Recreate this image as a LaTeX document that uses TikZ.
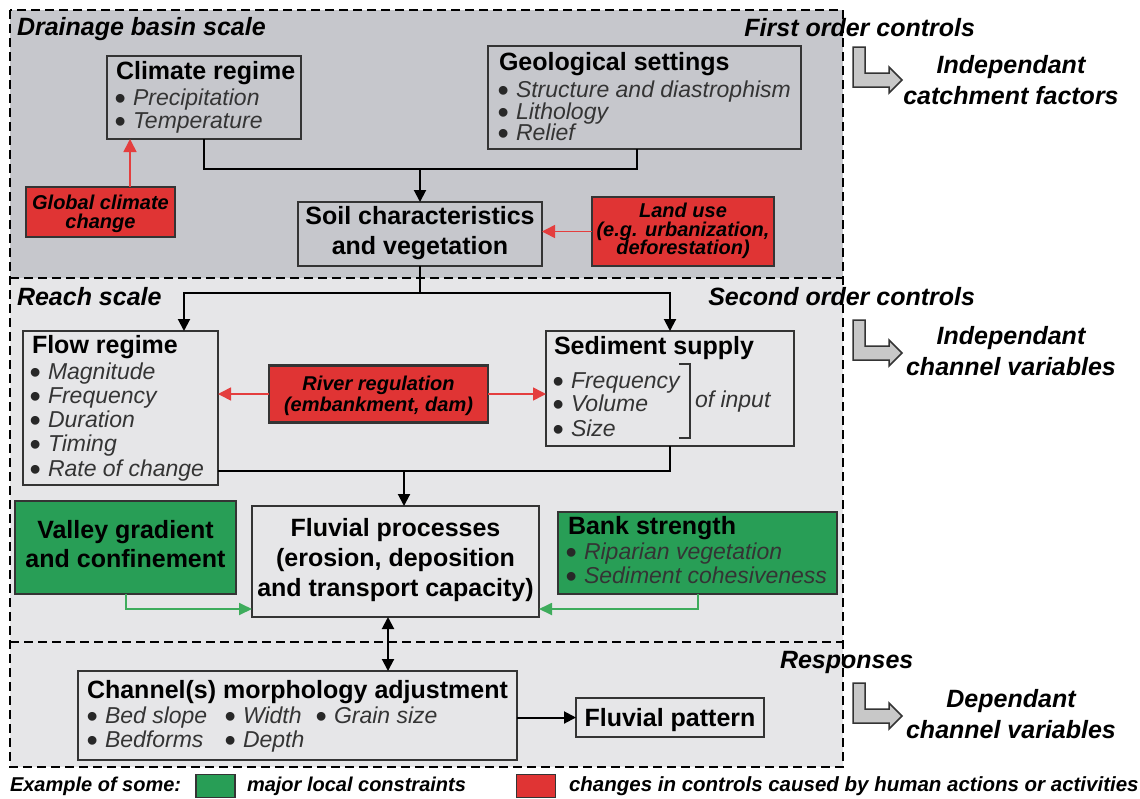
\documentclass[tikz,border=0pt]{standalone}
\usepackage{fontspec}
\setmainfont{Liberation Sans}
\usetikzlibrary{arrows.meta,calc}
\definecolor{topbg}{RGB}{198,199,204}
\definecolor{lowbg}{RGB}{230,230,232}
\definecolor{boxc}{RGB}{52,52,52}
\definecolor{itc}{RGB}{52,52,52}
\definecolor{bulc}{RGB}{40,40,40}
\definecolor{redf}{RGB}{224,52,52}
\definecolor{redl}{RGB}{228,62,62}
\definecolor{greenf}{RGB}{40,158,86}
\definecolor{greenl}{RGB}{62,172,92}
\definecolor{iconf}{RGB}{200,200,200}
\newcommand\Tfont{\fontsize{25}{30}\selectfont\bfseries}
\newcommand\Ifont{\fontsize{23}{24}\selectfont\itshape\color{itc}}
\newcommand\Rfont{\fontsize{20}{20}\selectfont\bfseries\itshape}
\newcommand\Bul{\makebox[0pt][r]{\smash{\raisebox{-4.5pt}{\scalebox{1.4}{\color{bulc}\upshape\textbullet}}}\hspace{7pt}}}
\begin{document}
\begin{tikzpicture}[x=1pt,y=-1pt,
  box/.style={draw=boxc, line width=2.2pt, rectangle, inner sep=0pt, outer sep=0pt},
  txt/.style={inner sep=0pt, outer sep=0pt, anchor=base west},
  ctxt/.style={inner sep=0pt, outer sep=0pt, anchor=base},
  etxt/.style={inner sep=0pt, outer sep=0pt, anchor=base east},
  conn/.style={line width=2pt, black},
  arr/.style={conn, -{Triangle[width=12pt,length=12pt]}},
  dblarr/.style={conn, {Triangle[width=12pt,length=12pt]}-{Triangle[width=12pt,length=12pt]}},
  redarr/.style={line width=1.6pt, redl, -{Triangle[width=13pt,length=13pt]}},
  greenarr/.style={line width=1.8pt, greenl, -{Triangle[width=12pt,length=13pt]}},
  dsh/.style={line width=2pt, black, dash pattern=on 9pt off 5pt},
  icon/.style={fill=iconf, draw=boxc, line width=1.5pt, line join=miter}]
\useasboundingbox (0,0) rectangle (1140,798);
\fill[white] (0,0) rectangle (1140,798);
% regions
\fill[topbg] (10,10) rectangle (843,278);
\fill[lowbg] (10,278) rectangle (843,767);
\draw[dsh] (10,10) rectangle (843,767);
\draw[dsh] (10,278) -- (843,278);
\draw[dsh] (10,642) -- (843,642);
% boxes
\node[box, fill=topbg, minimum width=194pt, minimum height=83pt] (climate) at (204,97.5) {};
\node[box, fill=topbg, minimum width=313pt, minimum height=103pt] (geo) at (644.5,97.5) {};
\node[box, fill=redf, minimum width=149pt, minimum height=50pt] (global) at (100.5,212) {};
\node[box, fill=topbg, minimum width=244pt, minimum height=64pt] (soil) at (420,234) {};
\node[box, fill=redf, minimum width=182pt, minimum height=69pt] (land) at (683,231.5) {};
\node[box, fill=lowbg, minimum width=195pt, minimum height=154pt] (flow) at (120.5,408) {};
\node[box, fill=redf, minimum width=219pt, minimum height=57pt] (river) at (378.5,394) {};
\node[box, fill=lowbg, minimum width=248pt, minimum height=115pt] (sed) at (670,388.5) {};
\node[box, fill=greenf, minimum width=221pt, minimum height=93pt] (valley) at (125.5,547.5) {};
\node[box, fill=lowbg, minimum width=287pt, minimum height=111pt] (fluv) at (395.5,561.5) {};
\node[box, fill=greenf, minimum width=279pt, minimum height=82pt] (bank) at (697.5,553) {};
\node[box, fill=lowbg, minimum width=439pt, minimum height=89pt] (chan) at (297.5,715.5) {};
\node[box, fill=lowbg, minimum width=188pt, minimum height=39pt] (pattern) at (670,717.5) {};
% connectors
\coordinate (j1) at (420,169);
\draw[conn] (climate.south) |- (j1);
\draw[conn] ([xshift=-7.5pt]geo.south) |- (j1);
\draw[arr] (j1) -- (soil.north);
\draw[redarr] ([xshift=29.5pt]global.north) -- ([xshift=29.5pt]global.north |- climate.south);
\draw[redarr] (land.west) -- (land.west -| soil.east);
\coordinate (j2) at (420,293);
\draw[conn] (soil.south) -- (j2);
\draw[arr] (j2) -| ([xshift=63.5pt]flow.north);
\draw[arr] (j2) -| (sed.north);
\draw[redarr] (river.west) -- (river.west -| flow.east);
\draw[redarr] (river.east) -- (river.east -| sed.west);
\coordinate (j3) at (404,471);
\draw[conn] (sed.south) |- (flow.east |- j3);
\draw[arr] (j3) -- (j3 |- fluv.north);
\draw[greenarr] ([xshift=0.5pt]valley.south) |- ([yshift=-47.5pt]fluv.west);
\draw[greenarr] ([xshift=0.5pt]bank.south) |- ([yshift=-47.5pt]fluv.east);
\draw[dblarr] ([xshift=-7.5pt]fluv.south) -- ([xshift=-7.5pt]fluv.south |- chan.north);
\draw[arr] (chan.east |- pattern.west) -- (pattern.west);
% sediment bracket
\draw[line width=2pt, boxc] (679,364) -- (690,364) -- (690,438) -- (679,438);
% icons
\draw[icon] (853,47) -- ++(12,0) -- ++(0,26) -- ++(24,0) -- ++(0,-6) -- ++(13,13) -- ++(-13,13) -- ++(0,-6) -- ++(-36,0) -- cycle;
\draw[icon] (853,320) -- ++(12,0) -- ++(0,26) -- ++(24,0) -- ++(0,-6) -- ++(13,13) -- ++(-13,13) -- ++(0,-6) -- ++(-36,0) -- cycle;
\draw[icon] (853,683) -- ++(12,0) -- ++(0,26) -- ++(24,0) -- ++(0,-6) -- ++(13,13) -- ++(-13,13) -- ++(0,-6) -- ++(-36,0) -- cycle;
% region labels
\node[txt] (lab1) at (17,35) {\Tfont\itshape Drainage basin scale};
\node[etxt] (lab2) at (975,36) {\Tfont\itshape First order controls};
\node[txt] (lab3) at (17,305) {\Tfont\itshape Reach scale};
\node[etxt] (lab4) at (975,305) {\Tfont\itshape Second order controls};
\node[txt] (lab5) at (780,668) {\Tfont\itshape Responses};
\node[ctxt] (r1a) at (1011,73) {\Tfont\itshape Independant};
\node[ctxt] (r1b) at (1011,104) {\Tfont\itshape catchment factors};
\node[ctxt] (r2a) at (1011,344) {\Tfont\itshape Independant};
\node[ctxt] (r2b) at (1011,375) {\Tfont\itshape channel variables};
\node[ctxt] (r3a) at (1011,707) {\Tfont\itshape Dependant};
\node[ctxt] (r3b) at (1011,738) {\Tfont\itshape channel variables};
% climate
\node[txt] (ct) at (116,79) {\Tfont Climate regime};
\node[txt] (c1) at (133,105) {\Ifont\Bul Precipitation};
\node[txt] (c2) at (133,128) {\Ifont\Bul Temperature};
% geo
\node[txt] (gt) at (499,70) {\Tfont Geological settings};
\node[txt] (g1) at (516,97) {\Ifont\Bul Structure and diastrophism};
\node[txt] (g2) at (516,119) {\Ifont\Bul Lithology};
\node[txt] (g3) at (516,140) {\Ifont\Bul Relief};
% global
\node[ctxt] (gl1) at (100.5,209) {\Rfont Global climate};
\node[ctxt] (gl2) at (100.5,228) {\Rfont change};
% soil
\node[ctxt] (s1) at (420,224) {\Tfont Soil characteristics};
\node[ctxt] (s2) at (420,254) {\Tfont and vegetation};
% land
\node[ctxt] (l1) at (683,217) {\Rfont Land use};
\node[ctxt] (l2) at (683,236) {\Rfont (e.g. urbanization,};
\node[ctxt] (l3) at (683,254) {\Rfont deforestation)};
% flow
\node[txt] (ft) at (32,353) {\Tfont Flow regime};
\node[txt] (f1) at (48,379) {\Ifont\Bul Magnitude};
\node[txt] (f2) at (48,403) {\Ifont\Bul Frequency};
\node[txt] (f3) at (48,427) {\Ifont\Bul Duration};
\node[txt] (f4) at (48,451) {\Ifont\Bul Timing};
\node[txt] (f5) at (48,476) {\Ifont\Bul Rate of change};
% river
\node[ctxt] (rv1) at (378.5,390) {\Rfont River regulation};
\node[ctxt] (rv2) at (378.5,411) {\Rfont (embankment, dam)};
% sediment
\node[txt] (sdt) at (554,354) {\Tfont Sediment supply};
\node[txt] (sd1) at (571,388) {\Ifont\Bul Frequency};
\node[txt] (sd2) at (571,411) {\Ifont\Bul Volume};
\node[txt] (sd3) at (571,436) {\Ifont\Bul Size};
\node[txt] (sd4) at (695,407) {\Ifont of input};
% valley
\node[ctxt] (v1) at (125.5,538) {\Tfont Valley gradient};
\node[ctxt] (v2) at (125.5,567) {\Tfont and confinement};
% fluvial
\node[ctxt] (fp1) at (395.5,536) {\Tfont Fluvial processes};
\node[ctxt] (fp2) at (395.5,566) {\Tfont (erosion, deposition};
\node[ctxt] (fp3) at (395.5,596) {\Tfont and transport capacity)};
% bank
\node[txt] (bt) at (568,534) {\Tfont Bank strength};
\node[txt] (b1) at (584,559) {\Ifont\Bul Riparian vegetation};
\node[txt] (b2) at (584,583) {\Ifont\Bul Sediment cohesiveness};
% channel
\node[txt] (cht) at (87,698) {\Tfont Channel(s) morphology adjustment};
\node[txt] (ch1) at (105,723) {\Ifont\Bul Bed slope};
\node[txt] (ch2) at (243,723) {\Ifont\Bul Width};
\node[txt] (ch3) at (334,723) {\Ifont\Bul Grain size};
\node[txt] (ch4) at (105,747) {\Ifont\Bul Bedforms};
\node[txt] (ch5) at (243,747) {\Ifont\Bul Depth};
% pattern
\node[ctxt] (pt) at (670,726) {\Tfont Fluvial pattern};
% legend
\node[txt] (lg1) at (10,791) {\Rfont Example of some:};
\node[box, fill=greenf, line width=1.8pt, minimum width=39pt, minimum height=23pt] (lgg) at (215.5,786) {};
\node[txt] (lg2) at (247,791) {\Rfont major local constraints};
\node[box, fill=redf, line width=1.8pt, minimum width=39pt, minimum height=23pt] (lgr) at (536,786) {};
\node[txt] (lg3) at (569,791) {\fontsize{20.5}{20}\selectfont\bfseries\itshape changes in controls caused by human actions or activities};
\end{tikzpicture}
\end{document}
